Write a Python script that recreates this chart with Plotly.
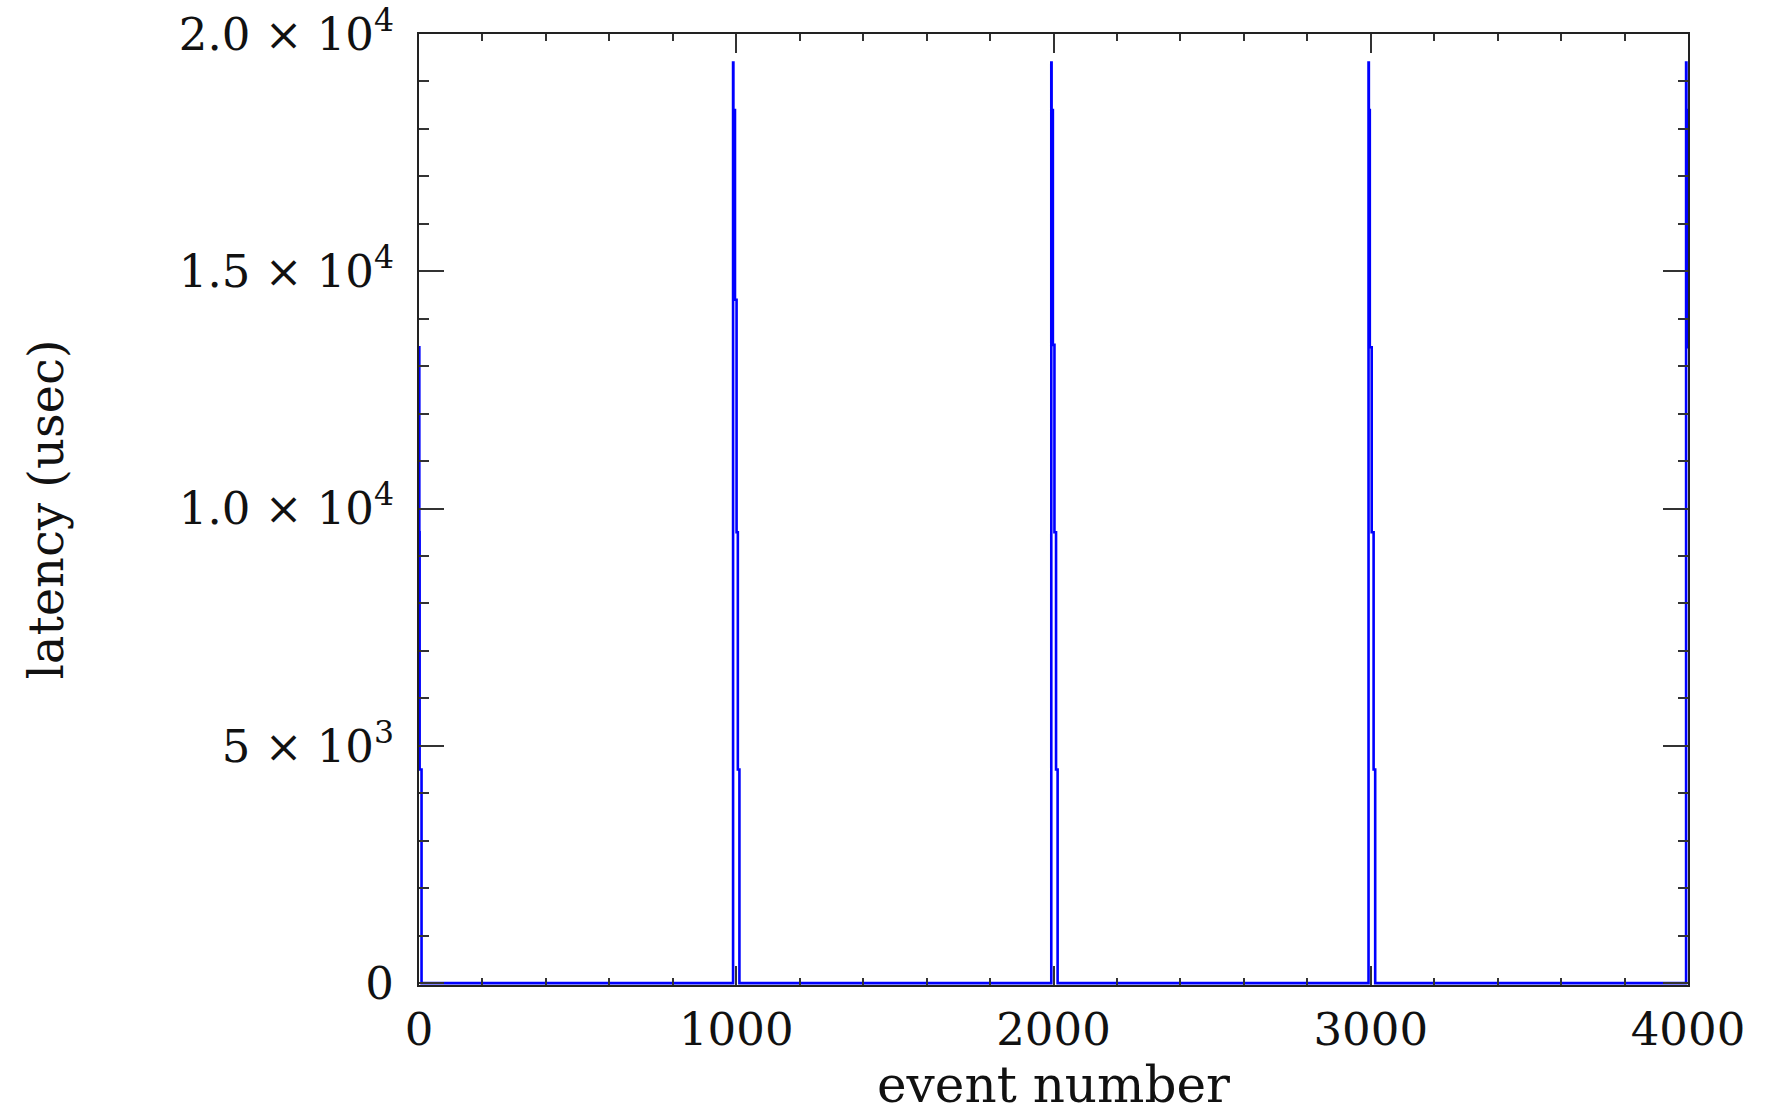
import plotly.graph_objects as go

# Data (step line, value holds until next event)
event_number = [0, 1, 2, 8,
                990, 991, 996, 1001, 1005, 1010,
                1993, 1994, 1998, 2003, 2008, 2013,
                2993, 2994, 2997, 3003, 3009, 3014,
                3994, 3995, 3998, 4000]
latency_usec = [13400, 9500, 4500, 0,
                19400, 18400, 14400, 9500, 4500, 0,
                19400, 18400, 13450, 9500, 4500, 0,
                19400, 18400, 13400, 9500, 4500, 0,
                19400, 18400, 13400, 13400]

x_tick_vals = [0, 1000, 2000, 3000, 4000]
x_tick_text = ["0", "1000", "2000", "3000", "4000"]
y_tick_vals = [0, 5000, 10000, 15000, 20000]
y_tick_text = ["0", "5 × 10<sup>3</sup>", "1.0 × 10<sup>4</sup>",
               "1.5 × 10<sup>4</sup>", "2.0 × 10<sup>4</sup>"]

FONT = "DejaVu Serif"

fig = go.Figure()
fig.add_trace(go.Scatter(
    x=event_number, y=latency_usec, mode="lines",
    line=dict(color="#0000ff", width=2.6, shape="hv"),
    showlegend=False,
))

axis_common = dict(
    showline=True, linecolor="#222222", linewidth=2, mirror="allticks",
    showgrid=False, zeroline=False,
    ticks="inside", tickcolor="#333333", tickwidth=1.5,
    tickfont=dict(family=FONT, size=45, color="#111111"),
)

fig.update_xaxes(
    **axis_common,
    range=[0, 4000],
    tickvals=x_tick_vals, ticktext=x_tick_text,
    ticklen=19,
    ticklabelstandoff=4,
    minor=dict(dtick=200, ticks="inside", ticklen=7, tickwidth=1.5, tickcolor="#333333"),
    title=dict(text="event number", font=dict(family=FONT, size=50, color="#111111"), standoff=6),
)
fig.update_yaxes(
    **axis_common,
    range=[-40, 20000],
    tickvals=y_tick_vals, ticktext=y_tick_text,
    ticklen=25,
    ticklabelstandoff=14,
    minor=dict(dtick=1000, ticks="inside", ticklen=10, tickwidth=1.5, tickcolor="#333333"),
    title=dict(text="latency (usec)", font=dict(family=FONT, size=48, color="#111111"), standoff=100),
)

fig.update_layout(
    width=1780, height=1119,
    margin=dict(l=419, r=92, t=34, b=134, autoexpand=False),
    paper_bgcolor="white", plot_bgcolor="white",
)

fig.write_html("out.html")
